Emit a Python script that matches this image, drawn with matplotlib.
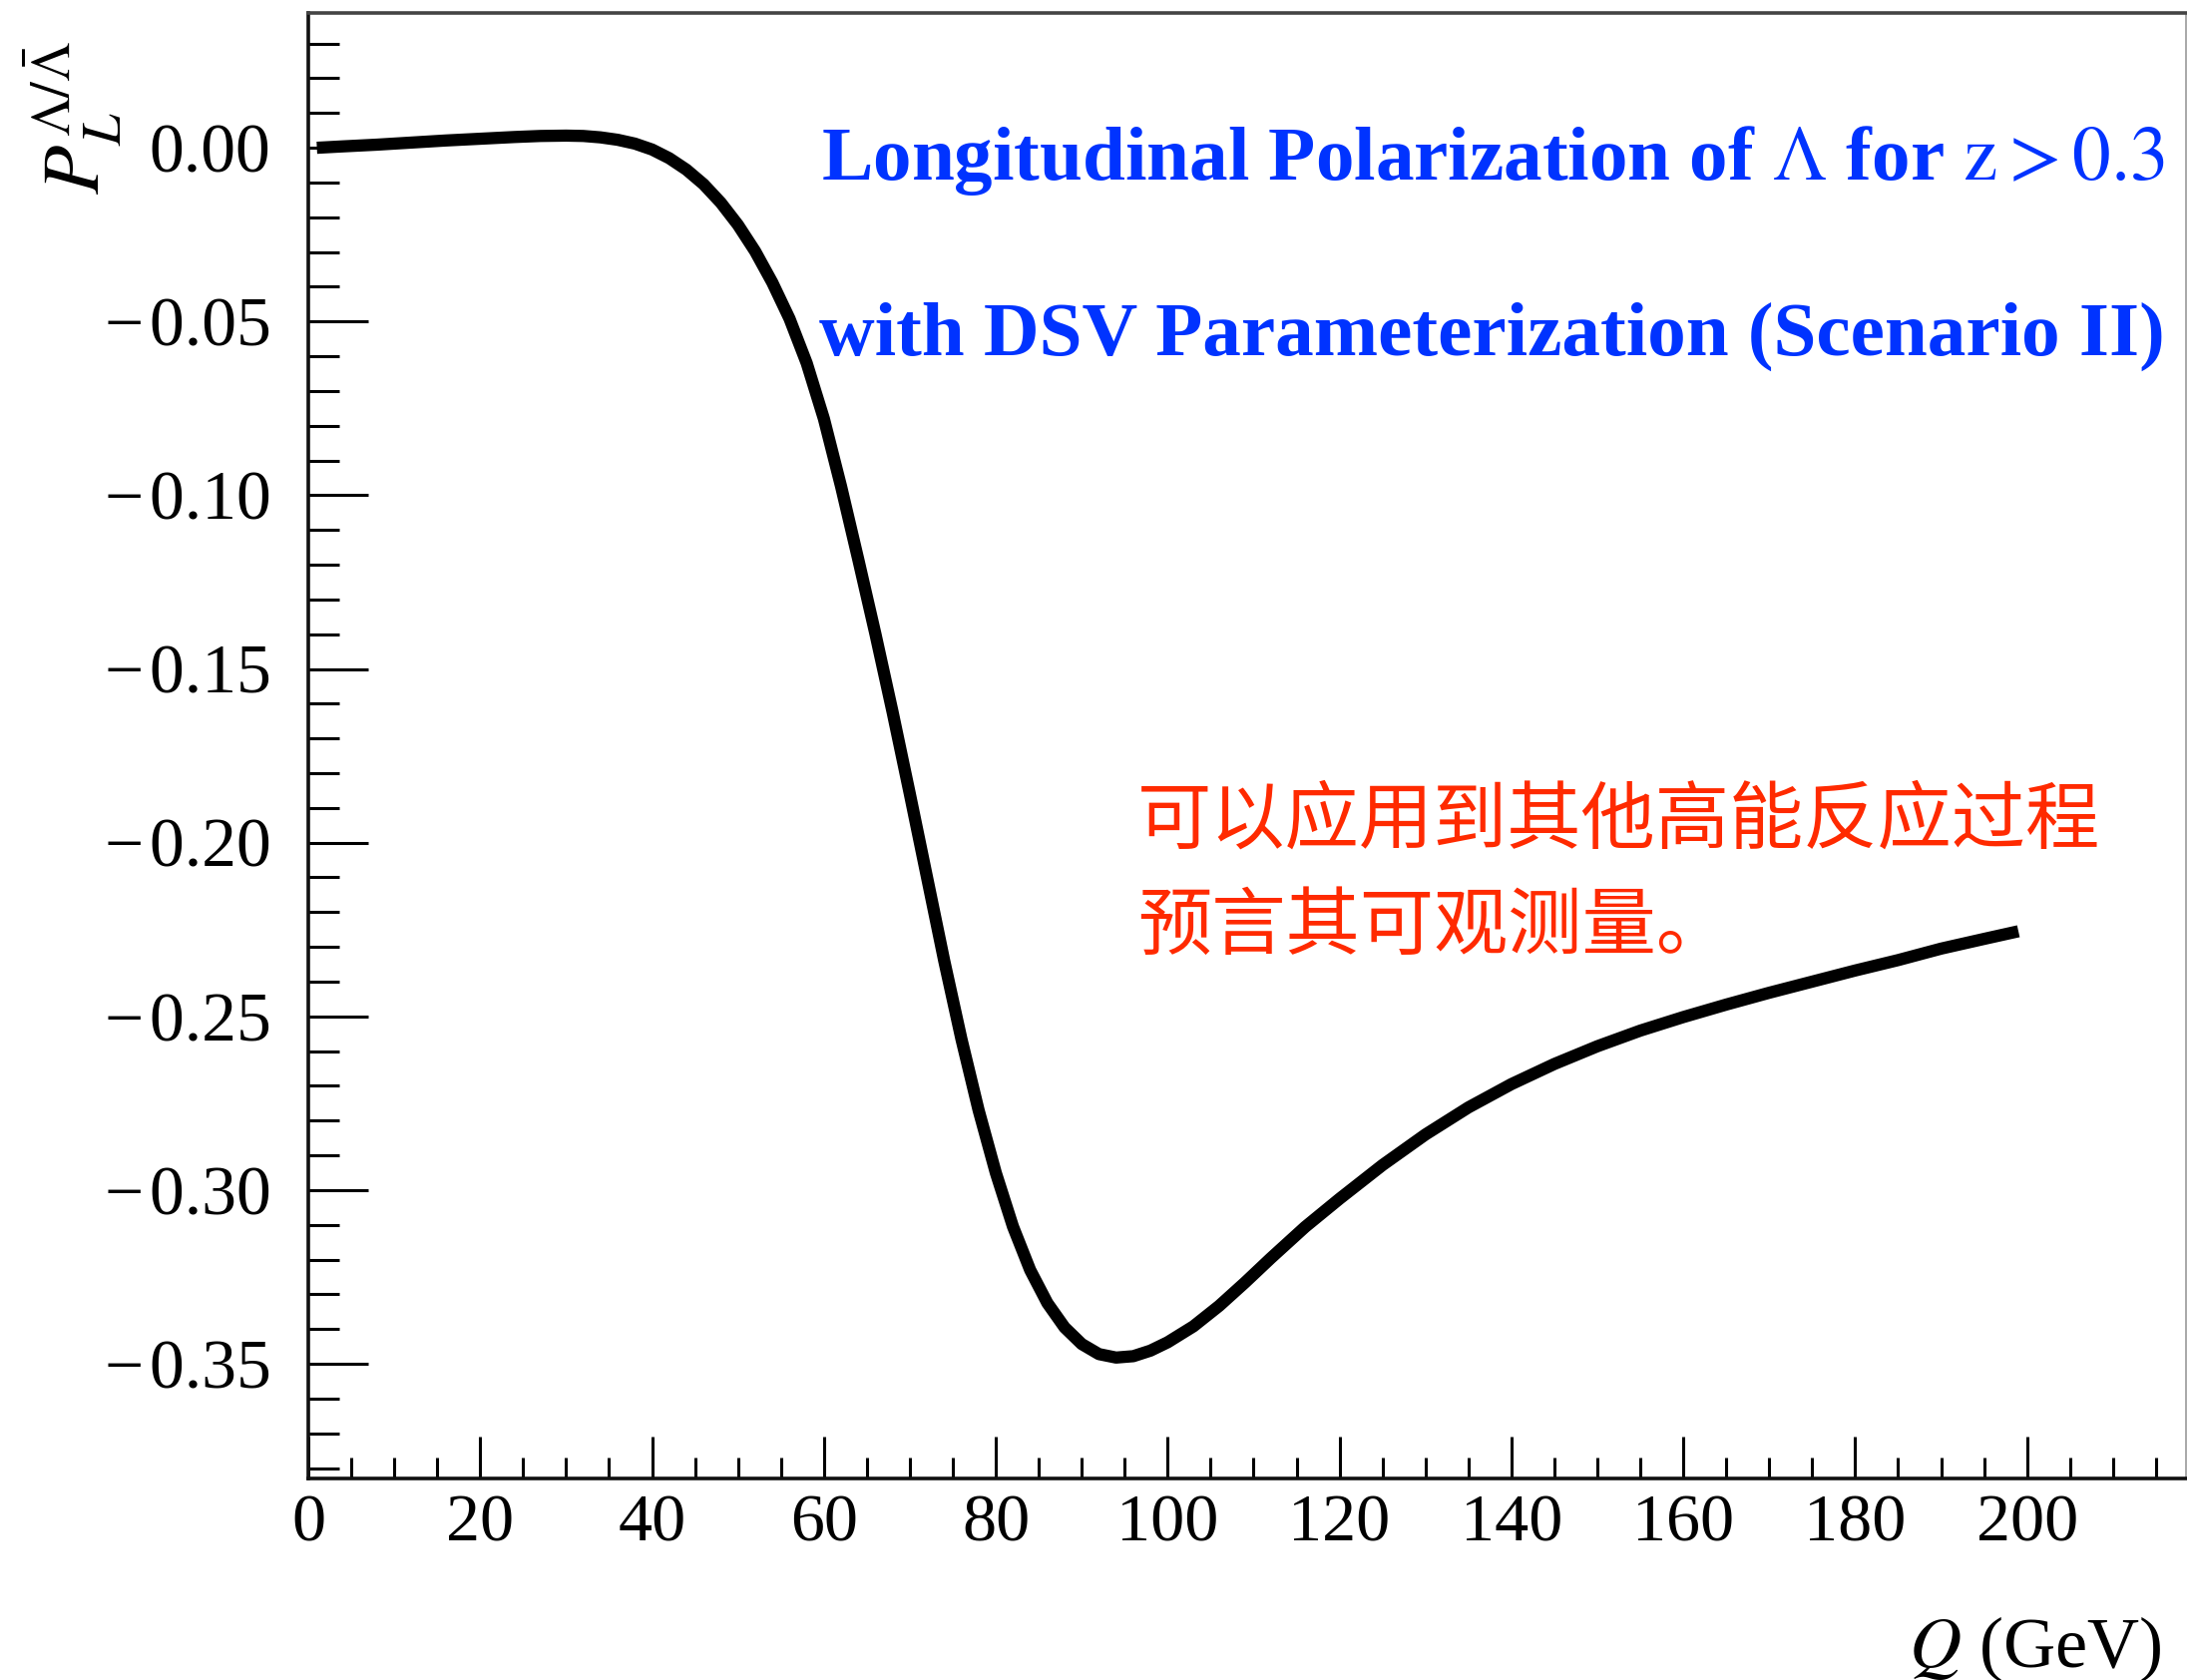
import matplotlib
matplotlib.use('Agg')
import matplotlib.pyplot as plt
from matplotlib.ticker import FixedLocator, MultipleLocator

# ---------------- data ----------------
Q = [1, 4, 8, 12, 16, 20, 24, 27, 30, 32, 34, 36, 38, 40, 42, 44, 46, 48, 50,
     52, 54, 56, 58, 60, 62, 64, 66, 68, 70, 72, 74, 76, 78, 80, 82, 84, 86,
     88, 90, 92, 94, 96, 98, 100, 103, 106, 109, 112, 116, 120, 125, 130, 135,
     140, 145, 150, 155, 160, 165, 170, 175, 180, 185, 190, 195, 199]
P = [0.0000, 0.0004, 0.0009, 0.0015, 0.0021, 0.0026, 0.0031, 0.0034, 0.0035,
     0.0034, 0.0030, 0.0023, 0.0012, -0.0005, -0.0030, -0.0063, -0.0105,
     -0.0158, -0.0222, -0.0298, -0.0388, -0.0492, -0.0620, -0.0780, -0.0975,
     -0.1185, -0.1400, -0.1625, -0.1860, -0.2100, -0.2340, -0.2565, -0.2770,
     -0.2950, -0.3105, -0.3230, -0.3325, -0.3395, -0.3443, -0.3472, -0.3482,
     -0.3478, -0.3462, -0.3438, -0.3392, -0.3333, -0.3266, -0.3196, -0.3106,
     -0.3025, -0.2928, -0.2840, -0.2762, -0.2695, -0.2637, -0.2586, -0.2541,
     -0.2502, -0.2466, -0.2432, -0.2400, -0.2368, -0.2338, -0.2305, -0.2277,
     -0.2255]

x_ticks = [0, 20, 40, 60, 80, 100, 120, 140, 160, 180, 200]
x_ticklabels = ['0', '20', '40', '60', '80', '100', '120', '140', '160', '180', '200']
y_ticks = [0.00, -0.05, -0.10, -0.15, -0.20, -0.25, -0.30, -0.35]
y_ticklabels = ['0.00', '\u2212\u200a0.05', '\u2212\u200a0.10', '\u2212\u200a0.15',
                '\u2212\u200a0.20', '\u2212\u200a0.25', '\u2212\u200a0.30',
                '\u2212\u200a0.35']

title_line1 = r'Longitudinal Polarization of $\Lambda$ for $\mathrm{z} > 0.3$'
title_line2 = 'with DSV Parameterization (Scenario II)'
note_line1 = '可以应用到其他高能反应过程'
note_line2 = '预言其可观测量。'
xlabel = r'$Q$ (GeV)'
ylabel = r'$P_L^{\Lambda/\bar{\Lambda}}$'

# ---------------- style ----------------
plt.rcParams['font.family'] = ['Liberation Serif', 'DejaVu Serif']
plt.rcParams['mathtext.fontset'] = 'stix'

W, H = 2192, 1684
fig = plt.figure(figsize=(W / 100, H / 100), dpi=100)
fig.patch.set_facecolor('white')

def fx(px):
    return px / W

def fy(py):
    return 1 - py / H

ax = fig.add_axes([fx(309), fy(1482), (2191 - 309) / W, (1482 - 13) / H])

ax.plot(Q, P, color='black', lw=8.8, solid_capstyle='butt', solid_joinstyle='round')

ax.set_xlim(0, 218.5)
ax.set_ylim(-0.383, 0.0388)

ax.xaxis.set_major_locator(FixedLocator(x_ticks))
ax.set_xticklabels(x_ticklabels)
ax.xaxis.set_minor_locator(MultipleLocator(5))
ax.yaxis.set_major_locator(FixedLocator(y_ticks))
ax.set_yticklabels(y_ticklabels)
ax.yaxis.set_minor_locator(MultipleLocator(0.01))

ax.tick_params(axis='both', which='both', direction='in', top=False, right=False,
               colors='black', width=2.2)
ax.tick_params(axis='x', labelsize=49)
ax.tick_params(axis='y', labelsize=50)
ax.tick_params(axis='y', which='major', length=43, pad=27)
ax.tick_params(axis='y', which='minor', length=22)
ax.tick_params(axis='x', which='major', length=30, pad=11)
ax.tick_params(axis='x', which='minor', length=15)

for s in ['left', 'bottom']:
    ax.spines[s].set_linewidth(2.6)
    ax.spines[s].set_color('#111111')
ax.spines['top'].set_linewidth(2.6)
ax.spines['top'].set_color('#444444')
ax.spines['right'].set_linewidth(1.2)
ax.spines['right'].set_color('#999999')

# axis titles (ROOT style placement)
fig.text(fx(2167), fy(1671), xlabel, ha='right', va='baseline', fontsize=52)
fig.text(fx(73), fy(118), ylabel, ha='center', va='center', rotation=90, fontsize=58)

# blue title
blue = '#0033ff'
fig.text(fx(2170), fy(180), title_line1, ha='right', va='baseline', fontsize=55.5,
         fontweight='bold', color=blue)
fig.text(fx(2170), fy(356), title_line2, ha='right', va='baseline', fontsize=55.5,
         fontweight='bold', color=blue)

# red Chinese note
red = '#ff2a00'
cjk = ['Noto Sans CJK SC', 'DejaVu Sans']
fig.text(fx(1140), fy(845), note_line1, ha='left', va='baseline', fontsize=53.5,
         color=red, family=cjk)
fig.text(fx(1140), fy(951), note_line2, ha='left', va='baseline', fontsize=53.5,
         color=red, family=cjk)

fig.savefig('out.png', dpi=100, facecolor='white')
